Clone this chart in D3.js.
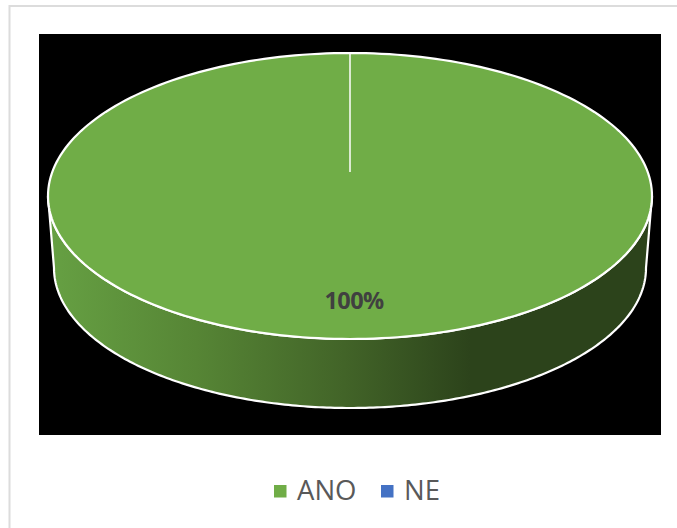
<!DOCTYPE html>
<html>
<head>
<meta charset="utf-8">
<script src="https://cdn.jsdelivr.net/npm/d3@7"></script>
<style>
  html, body { margin: 0; padding: 0; background: #fff; }
  svg { display: block; }
  text { font-family: "Open Sans", sans-serif; }
</style>
</head>
<body>
<div id="chart"></div>
<script>
const categories = ["ANO", "NE"];
const values = [100, 0];
const labels = ["100%", ""];
const colors = ["#70ad47", "#4472c4"];

const width = 677, height = 528;

// top face and the (slightly narrower) bottom edge of the tilted pie
const topFace = {cx: 350, cy: 196, rx: 302, ry: 143};
const bottomEdge = {cx: 350, cy: 268, rx: 296, ry: 140};
const apexY = 172; // where the slices meet, pulled up by the perspective

const svg = d3.select("#chart").append("svg")
  .attr("width", width)
  .attr("height", height);

// side shading runs left to right, dark from about x=470
const defs = svg.append("defs");
const grad = defs.append("linearGradient")
  .attr("id", "side")
  .attr("gradientUnits", "userSpaceOnUse")
  .attr("x1", 50).attr("x2", 470)
  .attr("y1", 0).attr("y2", 0);
grad.append("stop").attr("offset", "0%").attr("stop-color", "#66a043");
grad.append("stop").attr("offset", "35%").attr("stop-color", "#568535");
grad.append("stop").attr("offset", "70%").attr("stop-color", "#426428");
grad.append("stop").attr("offset", "100%").attr("stop-color", "#2c431b");

// outer frame, only top and left show inside the window
svg.append("rect")
  .attr("x", 9.5).attr("y", 6)
  .attr("width", width + 20).attr("height", height + 20)
  .attr("fill", "#fff")
  .attr("stroke", "#dcdcdc")
  .attr("stroke-width", 2);

// plot area
svg.append("rect")
  .attr("x", 39).attr("y", 34)
  .attr("width", 622).attr("height", 401)
  .attr("fill", "#000");

const pie = d3.pie().sort(null).value(d => d);
const slices = pie(values);

function onEllipse(e, a) {
  return [e.cx + e.rx * Math.sin(a), e.cy - e.ry * Math.cos(a)];
}
function arcPoints(e, a0, a1) {
  return d3.range(0, 241).map(i => onEllipse(e, a0 + (a1 - a0) * i / 240));
}
const line = d3.line();

// side wall, front half only
const front = [Math.PI / 2, Math.PI * 3 / 2];
svg.append("path")
  .attr("d", line(arcPoints(topFace, front[0], front[1]).concat(arcPoints(bottomEdge, front[1], front[0]))) + "Z")
  .attr("fill", "url(#side)")
  .attr("stroke", "#fff")
  .attr("stroke-width", 2.2)
  .attr("stroke-linejoin", "round");

// top face
svg.append("g").selectAll("path")
  .data(slices.filter(d => d.endAngle > d.startAngle))
  .join("path")
  .attr("d", d => line(arcPoints(topFace, d.startAngle, d.endAngle)) + "Z")
  .attr("fill", d => colors[d.index])
  .attr("stroke", "#fff")
  .attr("stroke-width", 2.2);

// seam at 12 o'clock
svg.append("line")
  .attr("x1", topFace.cx).attr("x2", topFace.cx)
  .attr("y1", topFace.cy - topFace.ry).attr("y2", apexY)
  .attr("stroke", "#fff")
  .attr("stroke-width", 1.5);

// data label
svg.append("text")
  .attr("x", 354).attr("y", 309)
  .attr("text-anchor", "middle")
  .attr("font-size", 23.5)
  .attr("font-weight", 700)
  .attr("letter-spacing", -0.6)
  .attr("fill", "#404040")
  .text(labels[0]);

// legend
const legendX = d3.scaleOrdinal().domain(categories).range([274, 381]);
const legend = svg.append("g").selectAll("g")
  .data(categories)
  .join("g")
  .attr("transform", d => `translate(${legendX(d)}, 485)`);
legend.append("rect")
  .attr("width", 12.5).attr("height", 12.5)
  .attr("fill", (d, i) => colors[i]);
legend.append("text")
  .attr("x", 23).attr("y", 15)
  .attr("font-size", 27.5)
  .attr("fill", "#595959")
  .text(d => d);
</script>
</body>
</html>
